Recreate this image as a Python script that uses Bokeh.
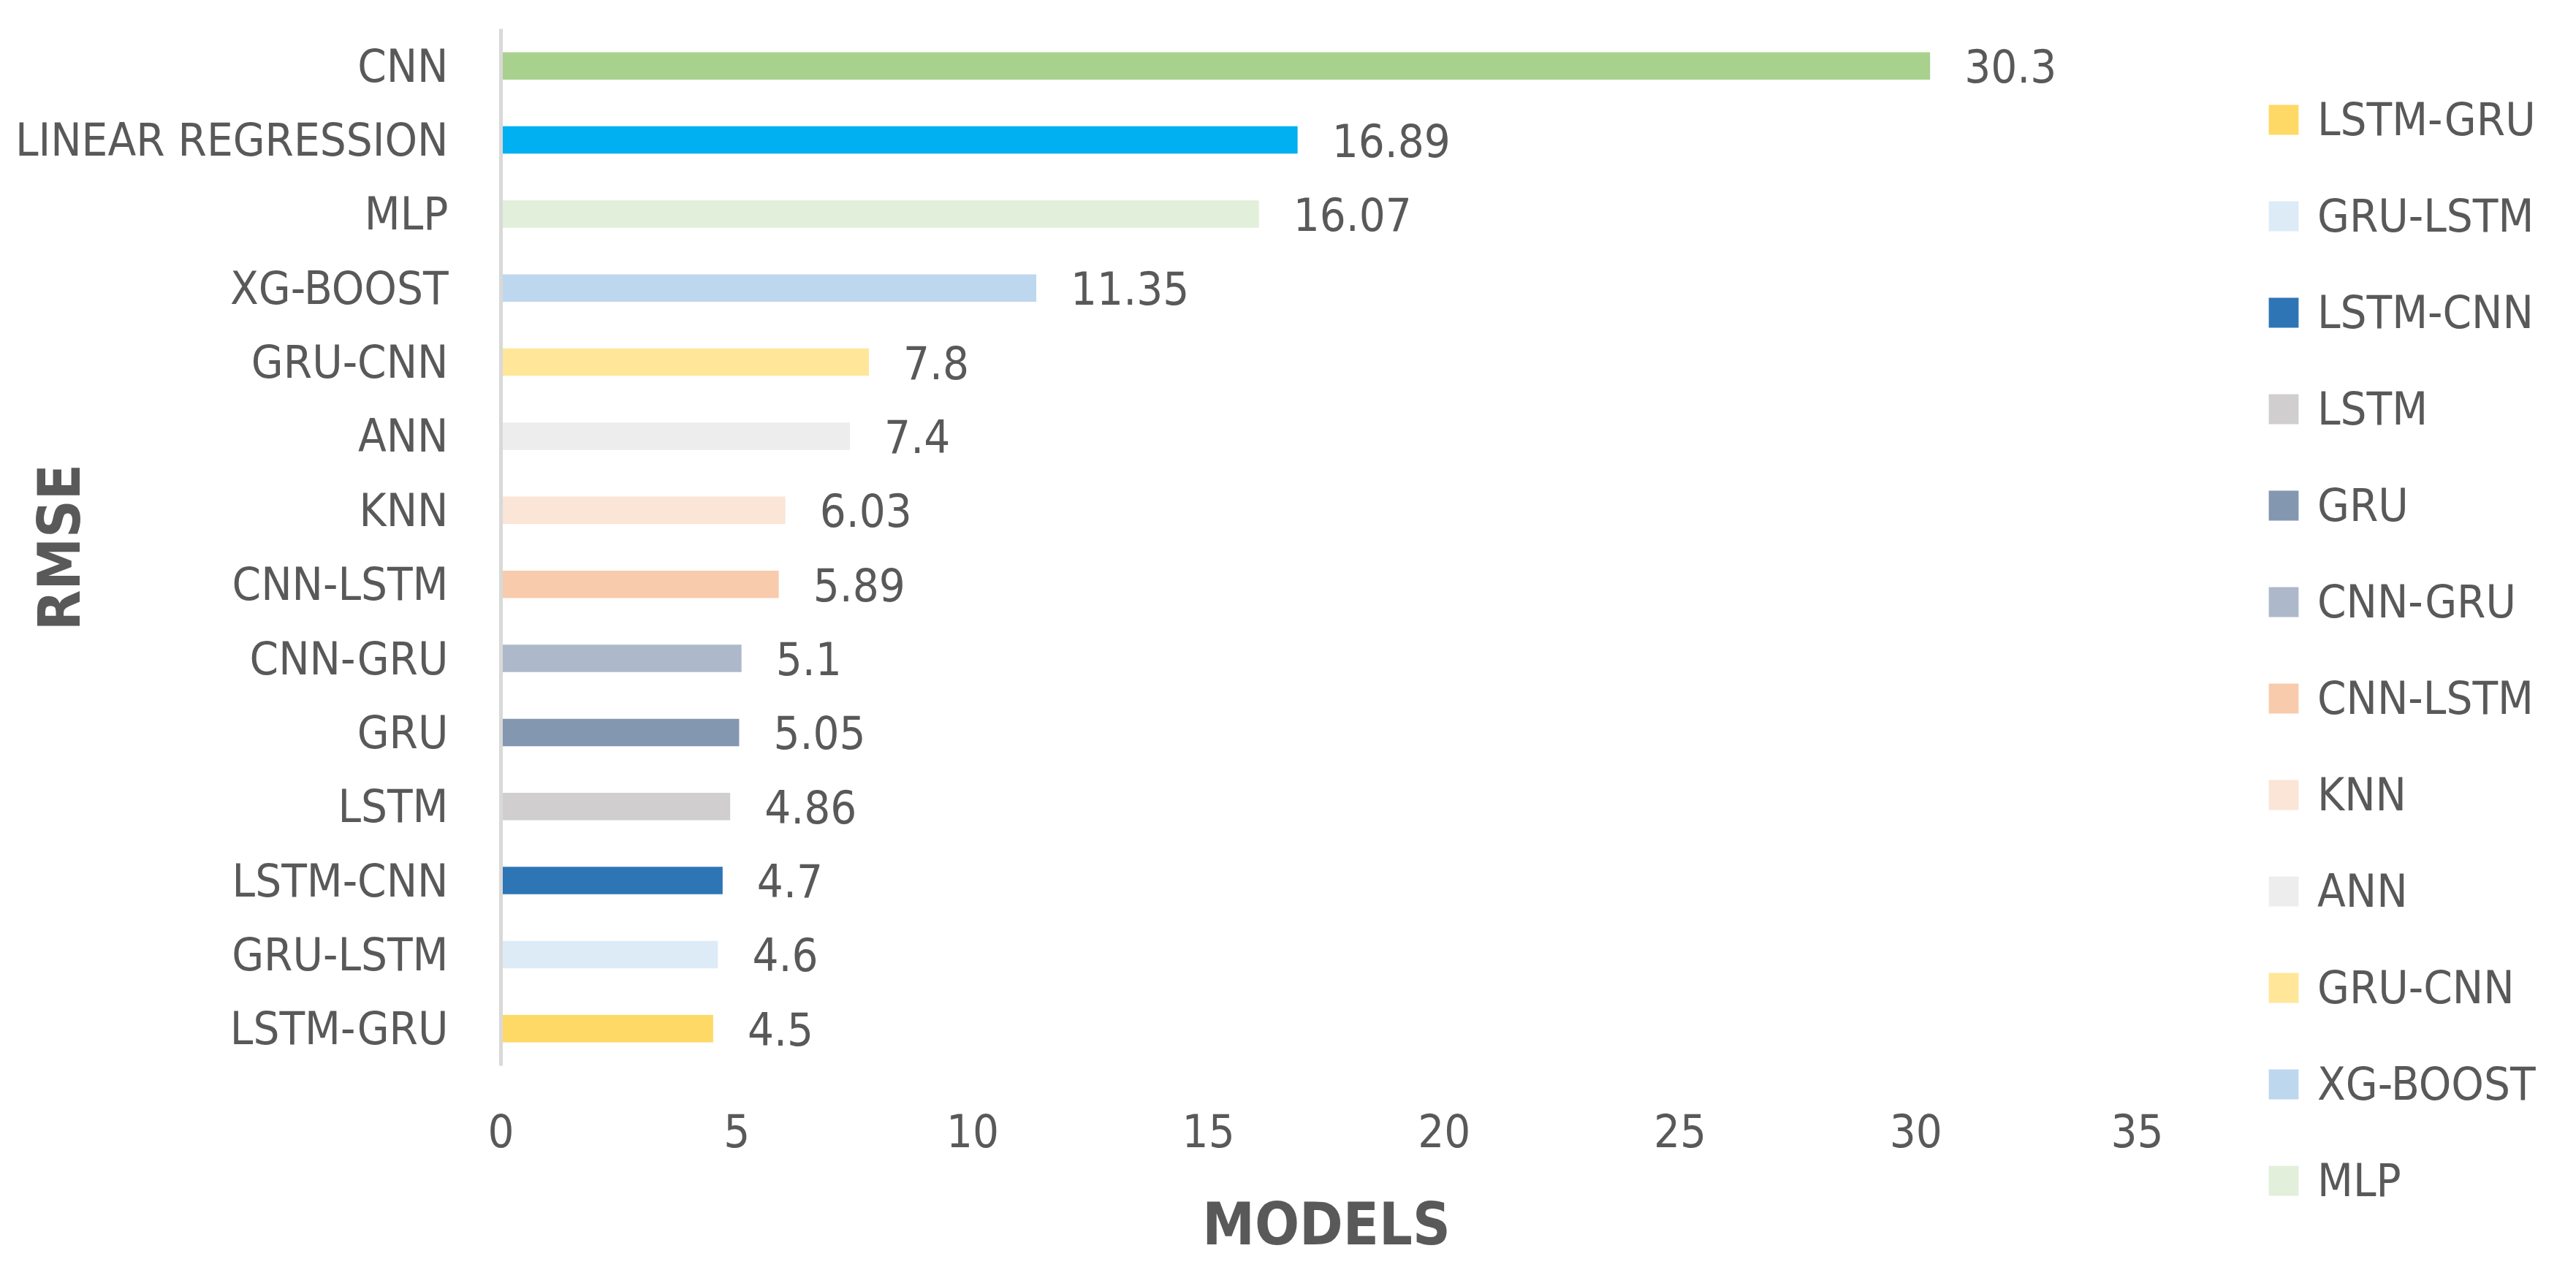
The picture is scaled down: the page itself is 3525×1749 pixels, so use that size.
from bokeh.plotting import figure
from bokeh.layouts import row
from bokeh.models import (ColumnDataSource, FactorRange, Range1d, FixedTicker,
                          Legend, LegendItem)
from bokeh.core.properties import value
from bokeh.embed import file_html
from bokeh.resources import INLINE

# ---- data (top to bottom as displayed) ----
models = ["CNN", "LINEAR REGRESSION", "MLP", "XG-BOOST", "GRU-CNN", "ANN", "KNN",
          "CNN-LSTM", "CNN-GRU", "GRU", "LSTM", "LSTM-CNN", "GRU-LSTM", "LSTM-GRU"]
rmse = [30.3, 16.89, 16.07, 11.35, 7.8, 7.4, 6.03, 5.89, 5.1, 5.05, 4.86, 4.7, 4.6, 4.5]
value_labels = ["30.3", "16.89", "16.07", "11.35", "7.8", "7.4", "6.03", "5.89",
                "5.1", "5.05", "4.86", "4.7", "4.6", "4.5"]
colors = ["#A9D18E", "#00B0F0", "#E2EFDA", "#BDD7EE", "#FFE699", "#EDEDED", "#FBE5D6",
          "#F8CBAD", "#ADB9CA", "#8497B0", "#D0CECE", "#2E75B6", "#DDEBF7", "#FFD966"]
x_ticks = [0, 5, 10, 15, 20, 25, 30, 35]
legend_models = ["LSTM-GRU", "GRU-LSTM", "LSTM-CNN", "LSTM", "GRU", "CNN-GRU",
                 "CNN-LSTM", "KNN", "ANN", "GRU-CNN", "XG-BOOST", "MLP"]
x_title = "MODELS"
y_title = "RMSE"

FONT = "'Liberation Sans Narrow', 'DejaVu Sans Condensed', 'Liberation Sans', sans-serif"
TXT = "#595959"
FS = "63px"

src = ColumnDataSource(dict(model=models, rmse=rmse, label=value_labels, color=colors))

H = 1730
W_MAIN = 2960
W_LEG = 545

p = figure(width=W_MAIN, height=H, output_backend="svg", toolbar_location=None,
           y_range=FactorRange(factors=list(reversed(models))),
           x_range=Range1d(0, 35),
           min_border_left=685, min_border_right=16, min_border_top=39,
           min_border_bottom=272)
p.outline_line_color = None
p.grid.visible = False

r = p.hbar(y="model", left=0, right="rmse", height=0.37, fill_color="color",
           line_color=None, source=src)

p.text(x="rmse", y="model", text="label", x_offset=47, text_baseline="middle",
       text_align="left", text_font=value(FONT), text_font_size=FS, text_color=TXT,
       source=src)

# y axis (categories)
p.yaxis.axis_line_color = "#D9D9D9"
p.yaxis.axis_line_width = 5
p.yaxis.major_tick_line_color = None
p.yaxis.minor_tick_line_color = None
p.yaxis.major_label_standoff = 66
p.yaxis.major_label_text_font = FONT
p.yaxis.major_label_text_font_size = FS
p.yaxis.major_label_text_color = TXT
p.yaxis.axis_label = y_title
p.yaxis.axis_label_standoff = -110
p.yaxis.axis_label_text_font = FONT
p.yaxis.axis_label_text_font_size = "80px"
p.yaxis.axis_label_text_font_style = "bold"
p.yaxis.axis_label_text_color = TXT

# x axis (values)
p.xaxis.axis_line_color = None
p.xaxis.major_tick_line_color = None
p.xaxis.minor_tick_line_color = None
p.xaxis.ticker = FixedTicker(ticks=x_ticks)
p.xaxis.major_label_standoff = 59
p.xaxis.major_label_text_font = FONT
p.xaxis.major_label_text_font_size = FS
p.xaxis.major_label_text_color = TXT
p.xaxis.axis_label = x_title
p.xaxis.axis_label_standoff = 56
p.xaxis.axis_label_text_font = FONT
p.xaxis.axis_label_text_font_size = "80px"
p.xaxis.axis_label_text_font_style = "bold"
p.xaxis.axis_label_text_color = TXT

# ---- legend panel (separate figure so it is not clipped by the plot frame) ----
q = figure(width=W_LEG, height=H, output_backend="svg", toolbar_location=None,
           y_range=FactorRange(factors=list(reversed(models))),
           x_range=Range1d(-2, -1), x_axis_location=None, y_axis_location=None,
           min_border_left=0, min_border_right=0, min_border_top=0, min_border_bottom=0)
if "frame_align" in q.properties():
    q.frame_align = False
q.outline_line_color = None
q.grid.visible = False
proxy = q.hbar(y="model", left=0, right="rmse", height=0.37, fill_color="color",
               line_color=None, source=src)

items = [LegendItem(label=m, renderers=[proxy], index=models.index(m)) for m in legend_models]
legend = Legend(items=items, location=(139, 78),
                label_text_font=FONT, label_text_font_size=FS, label_text_color=TXT,
                glyph_width=51, glyph_height=51, label_height=41, label_standoff=21,
                spacing=59, padding=0, margin=0, border_line_color=None,
                background_fill_alpha=0)
q.add_layout(legend)

layout = row(p, q)
open("out.html", "w").write(file_html(layout, INLINE))
